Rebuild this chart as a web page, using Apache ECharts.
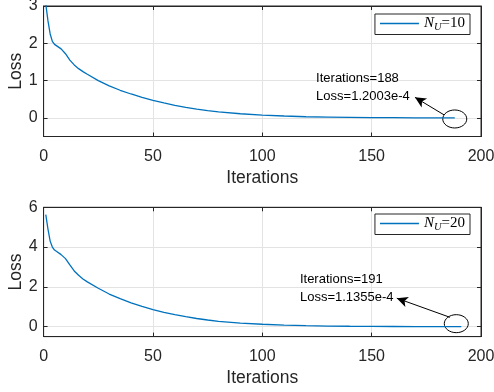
<!DOCTYPE html>
<html><head><meta charset="utf-8">
<script src="https://cdn.jsdelivr.net/npm/echarts@6/dist/echarts.min.js"></script>
<style>html,body{margin:0;padding:0;background:#fff}#c{width:494px;height:392px}</style>
</head><body><div id="c"></div>
<script>
// ---- data ----
const iters10 = [1,2,3,4,5,6,8,10,12,14,16,18,20,25,30,35,40,45,50,55,60,65,70,75,80,90,100,110,120,130,140,150,160,170,180,188];
const loss10  = [3.05,2.6,2.25,2.05,1.97,1.93,1.85,1.72,1.55,1.42,1.32,1.24,1.17,1.0,0.86,0.74,0.64,0.55,0.47,0.40,0.335,0.28,0.235,0.195,0.16,0.11,0.075,0.05,0.03,0.02,0.012,0.007,0.004,0.002,0.001,0.00012];
const iters20 = [1,2,3,4,5,6,8,10,12,14,16,18,20,25,30,35,40,45,50,55,60,65,70,75,80,90,100,110,120,130,140,150,160,170,180,191];
const loss20  = [5.63,4.9,4.3,4.0,3.85,3.78,3.62,3.42,3.1,2.8,2.58,2.4,2.25,1.93,1.64,1.41,1.2,1.02,0.86,0.72,0.6,0.5,0.41,0.335,0.27,0.18,0.12,0.08,0.05,0.03,0.02,0.012,0.007,0.004,0.002,0.00011];
const xTicks = [0,50,100,150,200];
const yTicks10 = [0,1,2,3];
const yTicks20 = [0,2,4,6];
const names = ['N_U=10','N_U=20'];
const annText10 = ['Iterations=188','Loss=1.2003e-4'];
const annText20 = ['Iterations=191','Loss=1.1355e-4'];

// ---- annotation anchors (data coords) ----
const ann = [
  {text: annText10, tip:[169.8,0.55], tail:[183.1,0.08], ell:[188,-0.03], txt:[124.6,1.30], xi:0, yi:0},
  {text: annText20, tip:[161.5,1.43], tail:[185.8,0.47], ell:[188.7,0.15], txt:[117.2,2.81], xi:2, yi:2}
];

const AX = '#262626', GRID = '#e3e3e3', LINE = '#0072BD', FONT = 'Liberation Sans';

function xAx(gi, pos) {
  const main = pos === 'bottom';
  return {type:'value', gridIndex:gi, position:pos, min:0, max:200, interval:50,
    axisLine:{show:true, onZero:false, lineStyle:{color:AX, width:1}},
    axisTick:{show:true, inside:true, length:4, lineStyle:{color:AX}},
    axisLabel:{show:main, margin:12, color:AX, fontSize:16, fontFamily:FONT},
    splitLine:{show:main, lineStyle:{color:GRID, width:1}},
    name: main ? 'Iterations' : '', nameLocation:'middle', nameGap:33, nameMoveOverlap:false,
    nameTextStyle:{color:AX, fontSize:17.5, fontFamily:FONT}};
}
function yAx(gi, pos, min, max, ticks) {
  const main = pos === 'left';
  return {type:'value', gridIndex:gi, position:pos, min:min, max:max,
    axisLine:{show:true, onZero:false, lineStyle:{color:AX, width:1}},
    axisTick:{show:true, inside:true, length:4, customValues:ticks, lineStyle:{color:AX}},
    axisLabel:{show:main, margin:6, customValues:ticks, color:AX, fontSize:16, fontFamily:FONT},
    splitLine:{show:main, lineStyle:{color:GRID, width:1}},
    name: main ? 'Loss' : '', nameLocation:'middle', nameGap:18, nameMoveOverlap:false,
    nameTextStyle:{color:AX, fontSize:17.5, fontFamily:FONT}};
}
function pairs(xs, ys){ return xs.map((x,i)=>[x, ys[i]]); }

const legendRich = {
  n:{fontFamily:'Liberation Serif', fontStyle:'italic', fontSize:15, color:'#000', lineHeight:18, verticalAlign:'middle'},
  u:{fontFamily:'Liberation Serif', fontStyle:'italic', fontSize:10.5, color:'#000', lineHeight:18, verticalAlign:'bottom'},
  e:{fontFamily:'Liberation Serif', fontSize:15, color:'#000', lineHeight:18, verticalAlign:'middle'}
};
function legendFmt(name){ const v = name.split('=')[1]; return '{n|N}{u|U}{e|=' + v + '}'; }
function legend(top, name){
  return {data:[name], right:24, top:top, orient:'vertical', icon:'rect', itemWidth:39, itemHeight:1.3,
    borderColor:AX, borderWidth:1, padding:[2,5,2,5], backgroundColor:'#fff',
    formatter:legendFmt, textStyle:{rich:legendRich}, selectedMode:false};
}
function arrow(a){
  return {silent:true, animation:false, symbol:['none','arrow'], symbolSize:[8,11],
    lineStyle:{color:'#000', width:1, type:'solid'}, label:{show:false},
    data:[[{coord:a.tail}, {coord:a.tip}]]};
}

const chart = echarts.init(document.getElementById('c'), null, {renderer:'canvas'});
chart.setOption({
  animation:false,
  backgroundColor:'#fff',
  grid:[
    {left:43.6, top:6, width:437.4, height:130.5, show:true, borderColor:AX, borderWidth:1, containLabel:false, outerBoundsMode:'none'},
    {left:43.6, top:207.3, width:437.4, height:129.3, show:true, borderColor:AX, borderWidth:1, containLabel:false, outerBoundsMode:'none'}
  ],
  xAxis:[xAx(0,'bottom'), xAx(0,'top'), xAx(1,'bottom'), xAx(1,'top')],
  yAxis:[yAx(0,'left',-0.5,3,yTicks10), yAx(0,'right',-0.5,3,yTicks10), yAx(1,'left',-0.5,6,yTicks20), yAx(1,'right',-0.5,6,yTicks20)],
  legend:[legend(14,names[0]), legend(214,names[1])],
  series:[
    {name:names[0], type:'line', xAxisIndex:0, yAxisIndex:0, data:pairs(iters10,loss10), showSymbol:false,
     lineStyle:{color:LINE, width:1.3}, itemStyle:{color:LINE}, markLine:arrow(ann[0])},
    {name:names[1], type:'line', xAxisIndex:2, yAxisIndex:2, data:pairs(iters20,loss20), showSymbol:false,
     lineStyle:{color:LINE, width:1.3}, itemStyle:{color:LINE}, markLine:arrow(ann[1])}
  ]
});

const g = [];
ann.forEach(a => {
  const f = {xAxisIndex:a.xi, yAxisIndex:a.yi};
  const e = chart.convertToPixel(f, a.ell);
  g.push({type:'ellipse', silent:true, shape:{cx:e[0], cy:e[1], rx:12, ry:9}, style:{fill:null, stroke:'#000', lineWidth:1}});
  const t = chart.convertToPixel(f, a.txt);
  g.push({type:'text', silent:true, x:t[0], y:t[1], style:{text:a.text.join('\n'), fontFamily:FONT, fontSize:13, lineHeight:18, fill:'#000', verticalAlign:'top', align:'left'}});
});
chart.setOption({graphic:g});
</script>
</body></html>
